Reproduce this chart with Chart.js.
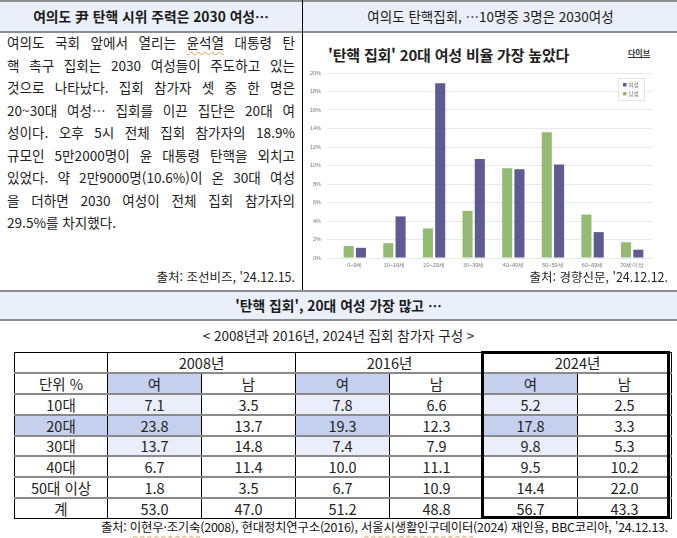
<!DOCTYPE html>
<html lang="ko">
<head>
<meta charset="utf-8">
<script src="https://cdn.jsdelivr.net/npm/chart.js@4.4.1/dist/chart.umd.min.js"></script>
<style>
body{margin:0;width:677px;height:538px;position:relative;background:#fff;font-family:"Noto Sans CJK KR","Noto Sans",sans-serif;color:#1a1a1a;overflow:hidden}
.band{position:absolute;left:0;width:677px;background:#eaeff9;border-top:2px solid #8e8e8e;border-bottom:2px solid #8e8e8e;box-sizing:border-box}
.band div{position:absolute;top:0;text-align:center;font-size:13.5px}
.txt div{position:absolute;left:7px;width:288px;font-size:13.6px;line-height:22px;text-align:justify;text-align-last:justify;white-space:nowrap;color:#222}
.wavy{text-decoration:underline wavy #e89a4a;text-decoration-thickness:1px;text-underline-offset:3px}
.src{position:absolute;top:270px;font-size:12.5px;line-height:14px;color:#222}
table{position:absolute;left:14px;top:352px;border-collapse:collapse;font-size:14.5px;color:#222}
tr{height:20.75px}
td{padding:0;text-align:center;border-left:1px solid #000;border-right:1px solid #000;border-top:2px solid #8a8a8a;border-bottom:2px solid #8a8a8a;line-height:15px}
td.k{width:92px}
td.c{width:93px}
.b{background:#c5d0ee}
.l{background:#e9eefa}
</style>
</head>
<body>
<div class="band" style="top:0;height:33px">
  <div style="left:0;width:302px;line-height:29px;font-weight:bold;font-size:13.8px">여의도 尹 탄핵 시위 주력은 2030 여성…</div>
  <div style="left:304px;width:373px;line-height:29px">여의도 탄핵집회, …10명중 3명은 2030여성</div>
</div>
<div style="position:absolute;left:302px;top:0;width:1px;height:291px;background:#000"></div>

<div class="txt">
  <div style="top:31px">여의도 국회 앞에서 열리는 <span class="wavy">윤석열</span> 대통령 탄</div>
  <div style="top:53.5px">핵 촉구 집회는 2030 여성들이 주도하고 있는</div>
  <div style="top:76px">것으로 나타났다. 집회 참가자 셋 중 한 명은</div>
  <div style="top:98.5px">20~30대 여성… 집회를 이끈 집단은 20대 여</div>
  <div style="top:121px">성이다. 오후 5시 전체 집회 참가자의 18.9%</div>
  <div style="top:143.5px">규모인 5만2000명이 윤 대통령 탄핵을 외치고</div>
  <div style="top:166px">있었다. 약 2만9000명(10.6%)이 온 30대 여성</div>
  <div style="top:188.5px">을 더하면 2030 여성이 전체 집회 참가자의</div>
  <div style="top:211px;text-align-last:left;width:auto">29.5%를 차지했다.</div>
</div>
<div class="src" style="right:382px">출처: 조선비즈, '24.12.15.</div>

<div style="position:absolute;left:328px;top:44px;font-size:15px;font-weight:bold;color:#222;letter-spacing:-0.2px">'탄핵 집회' 20대 여성 비율 가장 높았다</div>
<div style="position:absolute;left:628px;top:47px;font-size:8px;font-weight:bold;color:#333;text-decoration:underline">다이브</div>
<div style="position:absolute;left:306px;top:62px;width:366px;height:210px"><canvas id="chart"></canvas></div>
<div class="src" style="right:9px">출처: 경향신문, '24.12.12.</div>

<div class="band" style="top:290px;height:31px">
  <div style="left:0;width:677px;line-height:27px;font-weight:bold;font-size:13.8px">'탄핵 집회', 20대 여성 가장 많고 …</div>
</div>
<div style="position:absolute;left:0;width:677px;top:325px;text-align:center;font-size:13.5px;color:#222">&lt; 2008년과 2016년, 2024년 집회 참가자 구성 &gt;</div>

<table id="tbl"></table>
<div id="box2024" style="position:absolute;left:481px;top:351px;width:189px;height:168px;border:3px solid #000;box-sizing:border-box"></div>

<div style="position:absolute;right:9px;top:518px;font-size:12.4px;color:#111;letter-spacing:-0.2px;white-space:nowrap">출처: <span class="wavy">이현우·조기숙</span>(2008), 현대정치연구소(2016), <span class="wavy">서울시생활인구데이터</span>(2024) 재인용, BBC코리아, '24.12.13.</div>

<script>
// bar chart (경향신문)
const ageGroups = ['0~9세', '10~19세', '20~29세', '30~39세', '40~49세', '50~59세', '60~69세', '70세이상'];
const maleShare = [1.3, 1.6, 3.2, 5.1, 9.7, 13.6, 4.7, 1.7];
const femaleShare = [1.1, 4.5, 18.9, 10.7, 9.6, 10.1, 2.8, 0.9];
const yTicks = ['0%', '2%', '4%', '6%', '8%', '10%', '12%', '14%', '16%', '18%', '20%'];

// table
const tableYears = ['2008년', '2016년', '2024년'];
const tableRows = ['10대', '20대', '30대', '40대', '50대 이상', '계'];
const f2008 = ['7.1', '23.8', '13.7', '6.7', '1.8', '53.0'];
const m2008 = ['3.5', '13.7', '14.8', '11.4', '3.5', '47.0'];
const f2016 = ['7.8', '19.3', '7.4', '10.0', '6.7', '51.2'];
const m2016 = ['6.6', '12.3', '7.9', '11.1', '10.9', '48.8'];
const f2024 = ['5.2', '17.8', '9.8', '9.5', '14.4', '56.7'];
const m2024 = ['2.5', '3.3', '5.3', '10.2', '22.0', '43.3'];

const tbl = document.getElementById('tbl');
let html = '<tr><td class="k"></td>' + tableYears.map(y => '<td colspan="2">' + y + '</td>').join('') + '</tr>';
html += '<tr><td class="k">단위 %</td>' + tableYears.map(() => '<td class="c b">여</td><td class="c">남</td>').join('') + '</tr>';
const cols = [[f2008, m2008], [f2016, m2016], [f2024, m2024]];
tableRows.forEach((r, i) => {
    const hi = i === 1 ? 'b' : (i === 0 || i === 2 ? 'l' : '');
    html += '<tr><td class="k ' + (i === 1 ? 'b' : '') + '">' + r + '</td>';
    cols.forEach(([f, m]) => {
        html += '<td class="c ' + hi + '">' + f[i] + '</td><td class="c">' + m[i] + '</td>';
    });
    html += '</tr>';
});
tbl.innerHTML = html;
tbl.querySelectorAll('tr:first-child td').forEach(td => td.style.borderTop = '1px solid #000');
tbl.querySelectorAll('tr:last-child td').forEach(td => td.style.borderBottom = '1px solid #000');

const boxLegend = {
    id: 'boxLegend',
    afterDraw(chart) {
        const ctx = chart.ctx
        const a = chart.chartArea
        const x = a.right - 34, y = a.top + 5
        ctx.save()
        ctx.strokeStyle = '#e4e4e4'
        ctx.fillStyle = '#fff'
        ctx.fillRect(x, y, 26, 22)
        ctx.strokeRect(x + 0.5, y + 0.5, 26, 22)
        const order = [1, 0]
        ctx.font = '5.5px "Noto Sans CJK KR"'
        ctx.textBaseline = 'middle'
        order.forEach((d, i) => {
            const ds = chart.data.datasets[d]
            ctx.fillStyle = ds.backgroundColor
            ctx.fillRect(x + 5, y + 5 + i * 9, 3.5, 3.5)
            ctx.fillStyle = '#777'
            ctx.fillText(ds.label, x + 10.5, y + 7 + i * 9)
        })
        ctx.restore()
    }
}

new Chart(document.getElementById('chart'), {
    type: 'bar',
    data: {
        labels: ageGroups,
        datasets: [
            { label: '남성', data: maleShare, backgroundColor: '#93bb73' },
            { label: '여성', data: femaleShare, backgroundColor: '#5d5b92' }
        ]
    },
    options: {
        responsive: true,
        maintainAspectRatio: false,
        animation: false,
        categoryPercentage: 0.62,
        barPercentage: 0.82,
        layout: { padding: { top: 11, right: 20, left: 0, bottom: 0 } },
        plugins: { legend: { display: false }, tooltip: { enabled: false } },
        scales: {
            x: {
                grid: { display: false },
                border: { display: false },
                ticks: { font: { size: 5.5 }, color: '#777', padding: -4, maxRotation: 0 },
                afterFit: s => { s.height = 14 }
            },
            y: {
                min: 0,
                max: 20,
                grid: { color: '#e8e8e8' },
                border: { display: false },
                ticks: { stepSize: 2, font: { size: 5.5 }, color: '#777', padding: 6, callback: (v, i) => yTicks[i] },
                afterFit: s => { s.width = 29 }
            }
        }
    },
    plugins: [boxLegend]
});
</script>
</body>
</html>
